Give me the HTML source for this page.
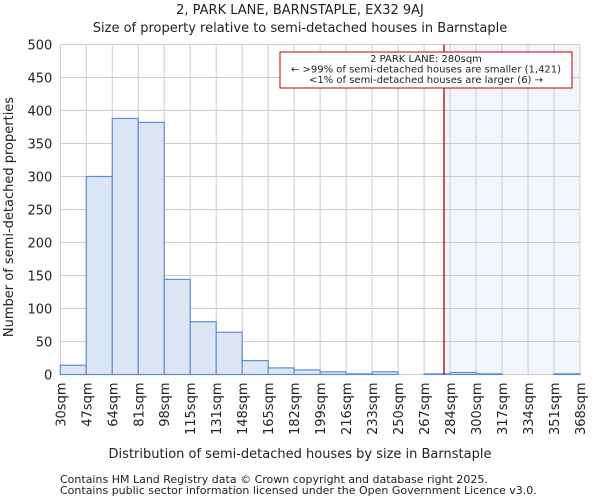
<!DOCTYPE html>
<html><head><meta charset="utf-8"><style>
body{margin:0;background:#fff;font-family:"DejaVu Sans","Liberation Sans",sans-serif;}
text{font-family:"DejaVu Sans","Liberation Sans",sans-serif;fill:#222;}
</style></head><body>
<svg id="chart" width="600" height="500">
<text x="300" y="14" text-anchor="middle" font-size="13">2, PARK LANE, BARNSTAPLE, EX32 9AJ</text>
<text x="300" y="32" text-anchor="middle" font-size="13">Size of property relative to semi-detached houses in Barnstaple</text>
<g id="plot"></g>
<text x="300" y="458" text-anchor="middle" font-size="13">Distribution of semi-detached houses by size in Barnstaple</text>
<text transform="translate(13,217) rotate(-90)" text-anchor="middle" font-size="13">Number of semi-detached properties</text>
<text x="60" y="483" font-size="11" fill="#444">Contains HM Land Registry data © Crown copyright and database right 2025.</text>
<text x="60" y="494" font-size="11" fill="#444">Contains public sector information licensed under the Open Government Licence v3.0.</text>
</svg>
<script>
const tickLabels=["30sqm","47sqm","64sqm","81sqm","98sqm","115sqm","131sqm","148sqm","165sqm","182sqm","199sqm","216sqm","233sqm","250sqm","267sqm","284sqm","300sqm","317sqm","334sqm","351sqm","368sqm"];
const counts=[14,300,388,382,144,80,64,21,10,7,4,1,4,0,1,3,1,0,0,1];
const yTicks=[0,50,100,150,200,250,300,350,400,450,500];
const markerBin=14+13/17;
const L=60.3,R=580,T=44.5,B=374.5;
const NS="http://www.w3.org/2000/svg";
const g=document.getElementById('plot');
const bw=(R-L)/counts.length;
const xs=i=>L+i*bw;
const ys=v=>B-(v/500)*(B-T);
function mk(t,a){const e=document.createElementNS(NS,t);for(const k in a)e.setAttribute(k,a[k]);g.appendChild(e);return e;}
const mx=xs(markerBin);
let e=mk('rect',{x:mx,y:T,width:R-mx,height:B-T,fill:"#f2f5fc"});


yTicks.forEach(v=>{
 let l=mk('line',{x1:L,x2:R,y1:ys(v),y2:ys(v),stroke:"#ccc","stroke-width":1});
 
 
 let t=mk('text',{x:L-8,y:ys(v)+5,"text-anchor":"end","font-size":13});t.textContent=v;
 
 
});
tickLabels.forEach((s,i)=>{
 let l=mk('line',{x1:xs(i),x2:xs(i),y1:T,y2:B,stroke:"#ccc","stroke-width":1});
 
 
 let t=mk('text',{transform:`translate(${xs(i)+5},${B+8}) rotate(-90)`,"text-anchor":"end","font-size":13});t.textContent=s;
 
 
});
counts.forEach((c,i)=>{
 let r=mk('rect',{x:xs(i),y:ys(c),width:bw,height:B-ys(c),fill:"#dde6f4",stroke:"#5b8fd6","stroke-width":1.2});
 
 
});
e=mk('line',{x1:mx,x2:mx,y1:T,y2:B,stroke:"#b00000","stroke-width":1.3});


e=mk('rect',{x:280,y:52,width:292,height:36,fill:"#fff",stroke:"#c00000","stroke-width":1});


["2 PARK LANE: 280sqm","← >99% of semi-detached houses are smaller (1,421)","<1% of semi-detached houses are larger (6) →"].forEach((s,i)=>{
 let t=mk('text',{x:426,y:62+i*10.5,"text-anchor":"middle","font-size":10});t.textContent=s;
 
 
});
</script>
</body></html>
